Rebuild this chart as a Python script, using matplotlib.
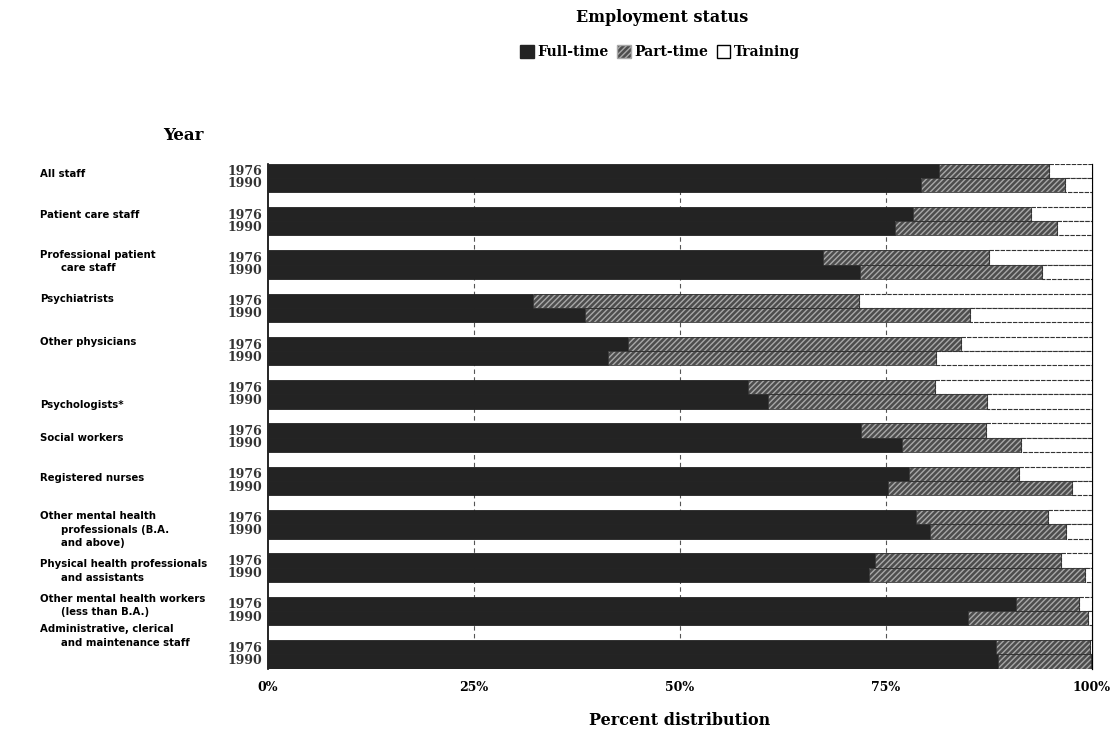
import matplotlib
matplotlib.use("Agg")
import matplotlib.pyplot as plt
from matplotlib.patches import Patch
import numpy as np

categories = [
    "All staff",
    "Patient care staff",
    "Professional patient\n      care staff",
    "Psychiatrists",
    "Other physicians",
    "Psychologists*",
    "Social workers",
    "Registered nurses",
    "Other mental health\n      professionals (B.A.\n      and above)",
    "Physical health professionals\n      and assistants",
    "Other mental health workers\n      (less than B.A.)",
    "Administrative, clerical\n      and maintenance staff",
]
years = ["1976", "1990"]
full_1976 = [81.4, 78.3, 67.4, 32.2, 43.7, 58.2, 72.0, 77.8, 78.7, 73.7, 90.8, 88.4]
part_1976 = [13.4, 14.3, 20.1, 39.5, 40.4, 22.8, 15.1, 13.3, 16.0, 22.5, 7.6, 11.4]
full_1990 = [79.3, 76.1, 71.9, 38.5, 41.3, 60.7, 77.0, 75.2, 80.3, 72.9, 84.9, 88.6]
part_1990 = [17.4, 19.6, 22.0, 46.7, 39.8, 26.5, 14.4, 22.4, 16.5, 26.2, 14.6, 11.3]
xticks = [0, 25, 50, 75, 100]
xticklabels = ["0%", "25%", "50%", "75%", "100%"]

# label vertical nudges (layout only)
label_nudge = [-0.09, -0.14, -0.07, -0.2, -0.2, 0.24, 0.0, -0.07, 0.12, 0.08, -0.13, -0.42]

W, H = 1118, 734
fig = plt.figure(figsize=(W / 100, H / 100), dpi=100)
ax = fig.add_axes([268 / W, (H - 668.6) / H, 824 / W, 505 / H])

serif = "DejaVu Serif"
sans = "DejaVu Sans"
FULL_C = "#232323"
PART_C = "#4d4d4d"
HATCH_C = "#a8a8a8"

n = len(categories)
y = np.arange(n)
h = 0.33
full = {"1976": np.array(full_1976), "1990": np.array(full_1990)}
part = {"1976": np.array(part_1976), "1990": np.array(part_1990)}
offs = {"1976": -h / 2, "1990": h / 2}

for yr in years:
    yy = y + offs[yr]
    f = full[yr]
    p = part[yr]
    t = 100 - f - p
    ax.barh(yy, f, height=h, color=FULL_C, edgecolor=FULL_C, linewidth=0.6, zorder=3)
    ax.barh(yy, p, left=f, height=h, facecolor=PART_C, edgecolor=HATCH_C,
            hatch="//////", linewidth=0, zorder=3)
    ax.barh(yy, p, left=f, height=h, facecolor="none", edgecolor="#333333",
            linewidth=0.6, zorder=4)
    ax.barh(yy, t, left=f + p, height=h, facecolor="white", edgecolor="#333333",
            linewidth=0.8, linestyle=(0, (4, 1)), zorder=3)

for gx in [25, 50, 75]:
    ax.axvline(gx, color="#555555", lw=0.8, ls=(0, (4, 3)), zorder=1)

ax.set_xlim(0, 100)
ax.set_ylim(n - 1 + h, -h)
for s in ["top", "bottom"]:
    ax.spines[s].set_visible(False)
ax.spines["left"].set_linewidth(1.2)
ax.spines["right"].set_linewidth(0.9)
ax.spines["right"].set_linestyle((0, (4, 1)))
ax.set_yticks([])
ax.set_xticks(xticks)
ax.set_xticklabels(xticklabels, fontfamily=serif, fontweight="bold", fontsize=9)
ax.tick_params(axis="x", length=0, pad=9)
ax.set_xlabel("Percent distribution", fontfamily=serif, fontweight="bold",
              fontsize=11.5, labelpad=13)

ytrans = ax.get_yaxis_transform()
for i, cat in enumerate(categories):
    ax.text(-228 / 824, i + label_nudge[i], cat, transform=ytrans,
            ha="left", va="center", fontfamily=sans, fontweight="bold",
            fontsize=7.3, linespacing=1.45)
    for yr in years:
        ax.text(-6 / 824, i + offs[yr] * 0.85, yr, transform=ytrans, ha="right",
                va="center", fontfamily=serif, fontweight="bold", fontsize=9,
                color="#333333")

fig.text(183 / W, 1 - 135 / H, "Year", ha="center", va="center",
         fontfamily=serif, fontweight="bold", fontsize=12)

handles = [
    Patch(facecolor=FULL_C, edgecolor=FULL_C, label="Full-time"),
    Patch(facecolor=PART_C, edgecolor=HATCH_C, hatch="//////", label="Part-time"),
    Patch(facecolor="white", edgecolor="black", linewidth=1.0, label="Training"),
]
fig.text(662 / W, 1 - 18 / H, "Employment status", ha="center", va="center",
         fontfamily=serif, fontweight="bold", fontsize=11.5)
leg = fig.legend(handles=handles, loc="center", bbox_to_anchor=(660 / W, 1 - 52 / H),
                 ncol=3, frameon=False, handlelength=1.0, handleheight=1.1,
                 handletextpad=0.25, columnspacing=0.6,
                 prop={"family": serif, "weight": "bold", "size": 10})

fig.savefig("out.png", dpi=100, facecolor="white")
